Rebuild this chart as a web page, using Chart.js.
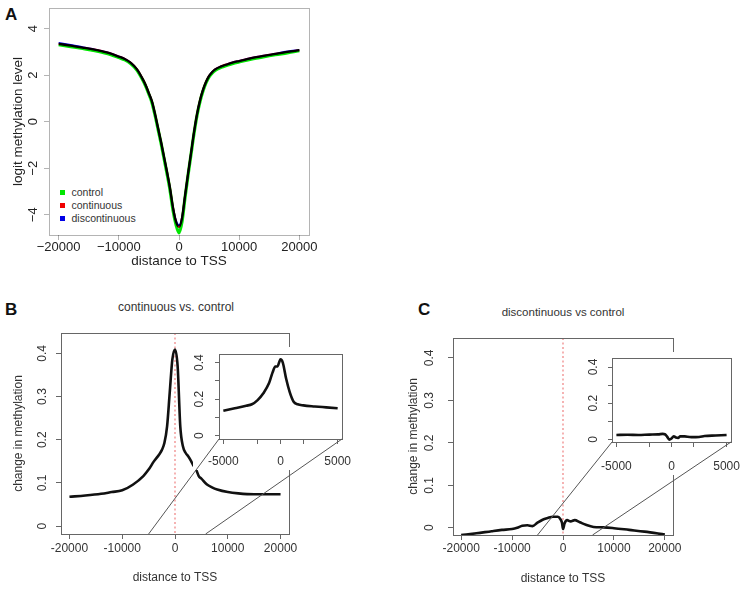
<!DOCTYPE html>
<html>
<head>
<meta charset="utf-8">
<script src="https://cdn.jsdelivr.net/npm/chart.js@4.4.1/dist/chart.umd.min.js"></script>
<style>
  html, body { margin: 0; padding: 0; background: #fff; }
  #figure { position: relative; width: 741px; height: 591px; overflow: hidden; font-family: "Liberation Sans", Arial, sans-serif; }
  #figure canvas { position: absolute; }
  .panel-letter { position: absolute; font-weight: bold; font-size: 17px; line-height: 17px; color: #111; }
  .panel-title { position: absolute; font-size: 12px; line-height: 12px; color: #333; transform: translateX(-50%); white-space: nowrap; }
  #legendA { position: absolute; left: 59.5px; top: 186.3px; font-size: 10.5px; color: #333; }
  #legendA div { height: 12.7px; line-height: 12.7px; white-space: nowrap; }
  #legendA span { display: inline-block; width: 5px; height: 5px; margin-right: 7px; vertical-align: 1px; }
</style>
</head>
<body>
<div id="figure">
  <div class="panel-letter" style="left:5px;top:6px">A</div>
  <div class="panel-letter" style="left:5px;top:301px">B</div>
  <div class="panel-letter" style="left:418px;top:301px">C</div>
  <div class="panel-title" style="left:176px;top:301px">continuous vs. control</div>
  <div class="panel-title" style="left:563px;top:306px;font-size:11.5px">discontinuous vs control</div>
  <div id="legendA"></div>
</div>
<script>
// ---- data ----

// Panel A: logit methylation level around the TSS
const distA = [-20000, -18000, -16000, -14000, -12000, -10000, -9000, -8000, -7000, -6000, -5500, -5000, -4500, -4000, -3500, -3000, -2500, -2000, -1500, -1000, -500, 0, 500, 1000, 1500, 2000, 2500, 3000, 3500, 4000, 4500, 5000, 5500, 6000, 7000, 8000, 9000, 10000, 12000, 14000, 16000, 18000, 20000];
const controlA = [3.31, 3.23, 3.15, 3.06, 2.94, 2.76, 2.66, 2.49, 2.22, 1.78, 1.51, 1.18, 0.83, 0.3, -0.3, -0.9, -1.56, -2.22, -2.93, -3.8, -4.42, -4.78, -4.3, -3.27, -2.3, -1.4, -0.5, 0.28, 0.88, 1.33, 1.68, 1.93, 2.09, 2.21, 2.34, 2.43, 2.51, 2.57, 2.69, 2.79, 2.88, 2.96, 3.05];
const continuousA = [3.35, 3.27, 3.19, 3.10, 2.98, 2.8, 2.7, 2.53, 2.26, 1.82, 1.55, 1.22, 0.88, 0.35, -0.25, -0.85, -1.5, -2.15, -2.85, -3.7, -4.3, -4.52, -4.15, -3.2, -2.25, -1.35, -0.45, 0.33, 0.93, 1.38, 1.72, 1.97, 2.13, 2.25, 2.38, 2.47, 2.55, 2.61, 2.73, 2.83, 2.92, 3.0, 3.08];
const discontinuousA = [3.39, 3.3, 3.21, 3.11, 2.99, 2.81, 2.71, 2.54, 2.27, 1.83, 1.56, 1.23, 0.89, 0.36, -0.24, -0.84, -1.48, -2.13, -2.83, -3.66, -4.24, -4.45, -4.1, -3.17, -2.23, -1.33, -0.43, 0.34, 0.94, 1.39, 1.73, 1.98, 2.14, 2.26, 2.39, 2.48, 2.56, 2.62, 2.74, 2.84, 2.93, 3.02, 3.09];
const seriesNamesA = ['control', 'continuous', 'discontinuous'];
const seriesColorsA = ['#00e600', '#f00000', '#0000e6'];

// Panel B: continuous vs. control
const distB = [-20000, -17000, -14000, -12000, -10000, -8000, -6000, -5000, -4000, -3000, -2500, -2000, -1500, -1000, -500, 0, 500, 1000, 1500, 2000, 2500, 3000, 3500, 4000, 4500, 5000, 6000, 7000, 8000, 10000, 12000, 15000, 20000];
const changeB = [0.068, 0.071, 0.075, 0.079, 0.083, 0.096, 0.116, 0.131, 0.150, 0.166, 0.176, 0.193, 0.231, 0.309, 0.386, 0.409, 0.370, 0.231, 0.185, 0.170, 0.162, 0.152, 0.140, 0.131, 0.116, 0.110, 0.097, 0.090, 0.085, 0.079, 0.076, 0.074, 0.074];
const distBInset = [-5000, -4000, -3000, -2500, -2000, -1500, -1000, -700, -450, -250, -100, 0, 200, 500, 800, 1150, 1500, 2000, 3000, 4000, 5000];
const changeBInset = [0.136, 0.150, 0.164, 0.172, 0.195, 0.232, 0.288, 0.345, 0.378, 0.38, 0.405, 0.418, 0.40, 0.31, 0.24, 0.186, 0.172, 0.166, 0.16, 0.155, 0.15];

// Panel C: discontinuous vs control
const distC = [-20000, -17000, -14000, -12000, -10000, -9000, -8000, -7000, -6000, -5000, -4000, -3000, -2000, -1000, -500, -200, 0, 300, 800, 1500, 2300, 3300, 4500, 6000, 8000, 10000, 13000, 16000, 20000];
const changeC = [-0.017, -0.013, -0.008, -0.005, -0.003, 0.0, 0.005, 0.006, 0.004, 0.012, 0.019, 0.023, 0.026, 0.026, 0.02, 0.012, -0.003, 0.01, 0.018, 0.015, 0.018, 0.013, 0.007, 0.002, 0.001, -0.001, -0.005, -0.009, -0.016];
const distCInset = [-5000, -4000, -3000, -2000, -1200, -800, -600, -400, -200, 0, 200, 400, 600, 800, 1200, 1800, 2500, 3000, 4000, 5000];
const changeCInset = [0.024, 0.025, 0.024, 0.026, 0.027, 0.03, 0.028, 0.015, -0.002, 0.004, 0.017, 0.01, 0.008, 0.017, 0.016, 0.012, 0.013, 0.018, 0.021, 0.024];

// tick values
const mainXTicks = [-20000, -10000, 0, 10000, 20000];
const logitTicks = [-4, -2, 0, 2, 4];
const changeTicks = [0, 0.1, 0.2, 0.3, 0.4];
const insetXTicks = [-5000, -2000, 0, 2000, 5000];
const insetXLabels = [-5000, 0, 5000];
const insetYLabels = [0, 0.2, 0.4];
const zoomFrom = [-5000, 5800];   // where the zoom lines leave the main plots
const tssPosition = 0;

// ---- layout (canvas boxes in page pixels) ----
const layout = {
    A: { left: 0, top: 0, width: 330, height: 290 },
    B: { left: 0, top: 320, width: 310, height: 271 },
    BInset: { left: 193, top: 347, width: 162, height: 123 },
    C: { left: 395, top: 320, width: 300, height: 271 },
    CInset: { left: 584, top: 352, width: 157, height: 123 }
};

Chart.defaults.font.family = '"Liberation Sans", Arial, sans-serif';

const figure = document.getElementById('figure');
function makeCanvas(box) {
    const c = document.createElement('canvas');
    c.width = box.width;
    c.height = box.height;
    c.style.left = box.left + 'px';
    c.style.top = box.top + 'px';
    figure.appendChild(c);
    return c;
}

// R-style box around the plot region
const framePlugin = {
    id: 'frame',
    afterDatasetsDraw(chart, args, opts) {
        const { ctx, chartArea: a } = chart;
        ctx.save();
        ctx.strokeStyle = opts.color;
        ctx.lineWidth = 1;
        ctx.strokeRect(Math.round(a.left) + 0.5, Math.round(a.top) + 0.5, Math.round(a.right - a.left), Math.round(a.bottom - a.top));
        ctx.restore();
    }
};

// dotted line at the TSS
const tssPlugin = {
    id: 'tss',
    beforeDatasetsDraw(chart) {
        const { ctx, chartArea: a } = chart;
        const x = chart.scales.x.getPixelForValue(tssPosition);
        ctx.save();
        ctx.strokeStyle = '#f08a8a';
        ctx.lineWidth = 1.3;
        ctx.setLineDash([2, 2.5]);
        ctx.beginPath();
        ctx.moveTo(x, a.top);
        ctx.lineTo(x, a.bottom);
        ctx.stroke();
        ctx.restore();
    }
};

// insets are opaque
const whitePlugin = {
    id: 'white',
    beforeDraw(chart) {
        const ctx = chart.ctx;
        ctx.save();
        ctx.fillStyle = '#fff';
        ctx.fillRect(0, 0, chart.width, chart.height);
        ctx.restore();
    }
};

// overlapping coloured lines mix towards black like in the figure
const multiplyPlugin = {
    id: 'multiply',
    beforeDatasetsDraw(chart) { chart.ctx.save(); chart.ctx.globalCompositeOperation = 'multiply'; },
    afterDatasetsDraw(chart) { chart.ctx.restore(); }
};

function axis(o) {
    const vertical = o.position === 'left';
    return {
        type: 'linear',
        position: o.position,
        min: o.min,
        max: o.max,
        afterBuildTicks: s => { s.ticks = o.ticks.map(v => ({ value: v })); },
        afterFit: s => {
            if (vertical) s.width = o.size; else s.height = o.size;
            s.paddingLeft = s.paddingRight = s.paddingTop = s.paddingBottom = 0;
        },
        border: { display: false },
        grid: { drawOnChartArea: false, tickLength: o.tick, color: o.color, lineWidth: 1 },
        ticks: {
            autoSkip: false,
            padding: o.pad,
            color: o.textColor,
            font: { size: o.font },
            minRotation: vertical ? 90 : 0,
            maxRotation: vertical ? 90 : 0,
            crossAlign: vertical ? 'center' : 'near',
            callback: o.label
        },
        title: o.title ? {
            display: true,
            text: o.title,
            color: o.textColor,
            font: { size: o.titleFont },
            padding: vertical ? { top: o.titlePad, bottom: 0 } : { top: 0, bottom: o.titlePad }
        } : { display: false }
    };
}

function points(xs, ys) {
    return xs.map((x, i) => ({ x: x, y: ys[i] }));
}

function blackLine(xs, ys) {
    return {
        data: points(xs, ys),
        borderColor: '#111',
        borderWidth: 2.6,
        pointRadius: 0,
        cubicInterpolationMode: 'monotone',
        fill: false
    };
}

const plainLabel = v => String(v);
const minusLabel = v => String(v).replace('-', '\u2212');
const insetXLabel = v => insetXLabels.includes(v) ? String(v) : '';
const insetYLabel = v => insetYLabels.includes(v) ? String(v) : '';

function baseOptions(padding, frameColor, x, y) {
    return {
        responsive: false,
        animation: false,
        events: [],
        layout: { padding: padding },
        plugins: { legend: { display: false }, tooltip: { enabled: false }, frame: { color: frameColor } },
        scales: { x: x, y: y }
    };
}

// ---- Panel A ----
const seriesA = [controlA, continuousA, discontinuousA];
const widthsA = [3.2, 2.3, 1.8];
const chartA = new Chart(makeCanvas(layout.A), {
    type: 'line',
    data: {
        datasets: seriesA.map((vals, i) => ({
            label: seriesNamesA[i],
            data: points(distA, vals),
            borderColor: seriesColorsA[i],
            borderWidth: widthsA[i],
            pointRadius: 0,
            cubicInterpolationMode: 'monotone',
            fill: false
        }))
    },
    options: baseOptions({ left: 0, top: 8, right: 21, bottom: 0 }, '#b4b4b4',
        axis({ position: 'bottom', min: -21600, max: 21600, ticks: mainXTicks, size: 55, tick: 5, pad: 0, font: 13, color: '#b4b4b4', textColor: '#222', label: minusLabel, title: 'distance to TSS', titleFont: 13.5, titlePad: 21 }),
        axis({ position: 'left', min: -4.87, max: 4.89, ticks: logitTicks, size: 49, tick: 5, pad: 3, font: 13, color: '#b4b4b4', textColor: '#222', label: minusLabel, title: 'logit methylation level', titleFont: 13.5, titlePad: 10 })),
    plugins: [framePlugin, multiplyPlugin]
});

// legend for panel A
const legendA = document.getElementById('legendA');
seriesNamesA.forEach((name, i) => {
    const row = document.createElement('div');
    const sw = document.createElement('span');
    sw.style.background = seriesColorsA[i];
    row.appendChild(sw);
    row.appendChild(document.createTextNode(name));
    legendA.appendChild(row);
});

// ---- Panel B ----
const chartB = new Chart(makeCanvas(layout.B), {
    type: 'line',
    data: { datasets: [blackLine(distB, changeB)] },
    options: baseOptions({ left: 0, top: 13, right: 21, bottom: 0 }, '#666',
        axis({ position: 'bottom', min: -21600, max: 21600, ticks: mainXTicks, size: 57, tick: 5, pad: 2, font: 12, color: '#666', textColor: '#333', label: plainLabel, title: 'distance to TSS', titleFont: 12, titlePad: 6 }),
        axis({ position: 'left', min: -0.018, max: 0.447, ticks: changeTicks, size: 61, tick: 5, pad: 4.7, font: 12, color: '#666', textColor: '#333', label: plainLabel, title: 'change in methylation', titleFont: 12, titlePad: 11 })),
    plugins: [framePlugin, tssPlugin]
});

const chartBInset = new Chart(makeCanvas(layout.BInset), {
    type: 'line',
    data: { datasets: [blackLine(distBInset, changeBInset)] },
    options: baseOptions({ left: 0, top: 7, right: 13, bottom: 0 }, '#666',
        axis({ position: 'bottom', min: -5380, max: 5380, ticks: insetXTicks, size: 31, tick: 5, pad: 10, font: 12, color: '#666', textColor: '#333', label: insetXLabel }),
        axis({ position: 'left', min: -0.018, max: 0.447, ticks: changeTicks, size: 26, tick: 4, pad: 6.7, font: 12, color: '#666', textColor: '#333', label: insetYLabel })),
    plugins: [whitePlugin, framePlugin]
});

// ---- Panel C ----
const chartC = new Chart(makeCanvas(layout.C), {
    type: 'line',
    data: { datasets: [blackLine(distC, changeC)] },
    options: baseOptions({ left: 0, top: 18, right: 22, bottom: 0 }, '#666',
        axis({ position: 'bottom', min: -21600, max: 21600, ticks: mainXTicks, size: 56, tick: 5, pad: 1, font: 12, color: '#666', textColor: '#333', label: plainLabel, title: 'distance to TSS', titleFont: 12, titlePad: 5.5 }),
        axis({ position: 'left', min: -0.017, max: 0.447, ticks: changeTicks, size: 58, tick: 5, pad: 9.7, font: 12, color: '#666', textColor: '#333', label: plainLabel, title: 'change in methylation', titleFont: 12, titlePad: 11.4 })),
    plugins: [framePlugin, tssPlugin]
});

const chartCInset = new Chart(makeCanvas(layout.CInset), {
    type: 'line',
    data: { datasets: [blackLine(distCInset, changeCInset)] },
    options: baseOptions({ left: 0, top: 6, right: 10, bottom: 0 }, '#666',
        axis({ position: 'bottom', min: -5400, max: 5400, ticks: insetXTicks, size: 33, tick: 5, pad: 12.8, font: 12, color: '#666', textColor: '#333', label: insetXLabel }),
        axis({ position: 'left', min: -0.015, max: 0.45, ticks: changeTicks, size: 28, tick: 4, pad: 6.4, font: 12, color: '#666', textColor: '#333', label: insetYLabel })),
    plugins: [whitePlugin, framePlugin]
});

// ---- zoom lines from the main plots to their insets (on top of everything) ----
const overlay = makeCanvas({ left: 0, top: 0, width: 741, height: 591 });
const octx = overlay.getContext('2d');
function drawZoomLines(main, mainBox, inset, insetBox) {
    const a = main.chartArea;
    const b = inset.chartArea;
    const xs = main.scales.x;
    octx.save();
    octx.strokeStyle = '#555';
    octx.lineWidth = 1;
    octx.beginPath();
    octx.moveTo(mainBox.left + xs.getPixelForValue(zoomFrom[0]), mainBox.top + a.bottom);
    octx.lineTo(insetBox.left + b.left, insetBox.top + b.bottom);
    octx.moveTo(mainBox.left + xs.getPixelForValue(zoomFrom[1]), mainBox.top + a.bottom);
    octx.lineTo(insetBox.left + b.right, insetBox.top + b.bottom);
    octx.stroke();
    octx.restore();
}
drawZoomLines(chartB, layout.B, chartBInset, layout.BInset);
drawZoomLines(chartC, layout.C, chartCInset, layout.CInset);
</script>
</body>
</html>
